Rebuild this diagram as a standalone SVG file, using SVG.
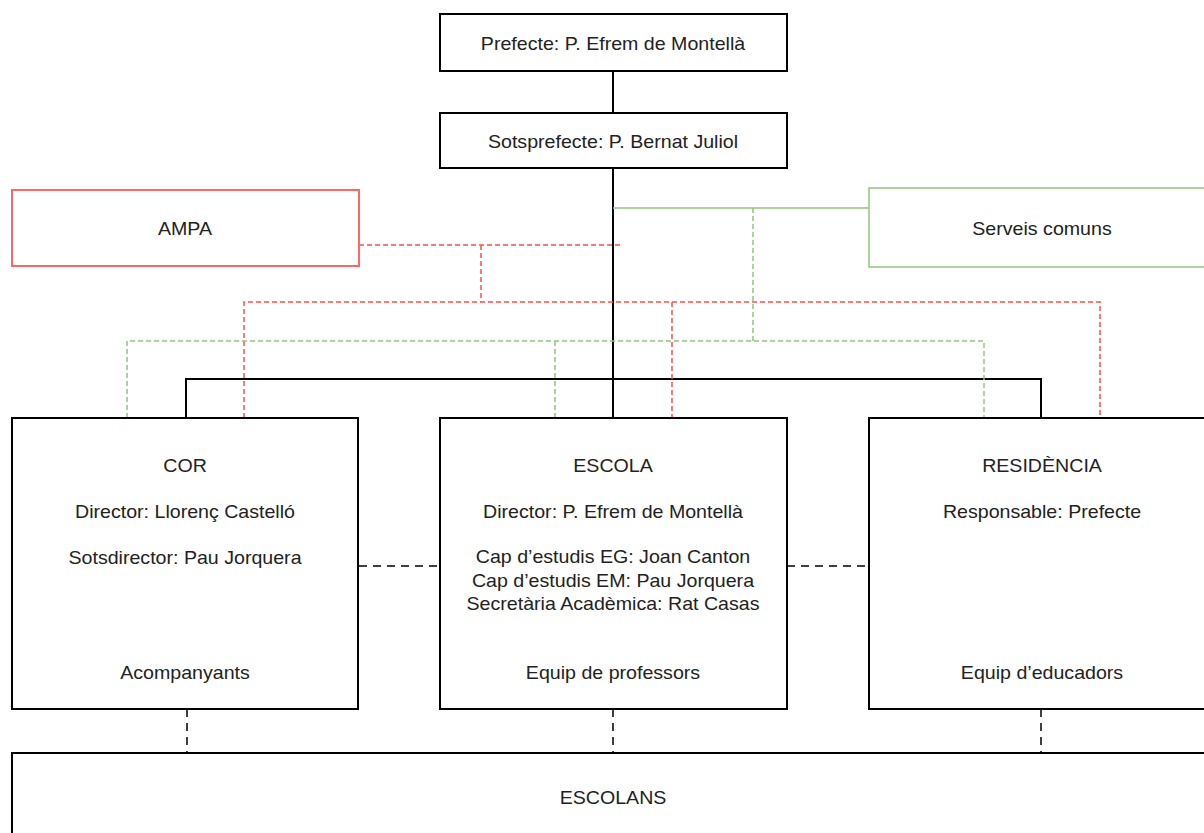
<svg xmlns="http://www.w3.org/2000/svg" width="1204" height="833" viewBox="0 0 1204 833">
<style>
.box{fill:#fff;stroke:#000;stroke-width:2}
.red{fill:#fff;stroke:#ff6666;stroke-width:2}
.green{fill:#fff;stroke:#93c47d;stroke-width:1.5}
text{font-family:"Liberation Sans",Arial,sans-serif;font-size:18.5px;fill:#222;text-anchor:middle}
.solid{fill:none;stroke:#000;stroke-width:2}
.gsolid{fill:none;stroke:#93c47d;stroke-width:1.5}
.rdash{fill:none;stroke:#ff4d4d;stroke-width:1.5;stroke-dasharray:5,3}
.gdash{fill:none;stroke:#93c47d;stroke-width:1.5;stroke-dasharray:5,3}
.kdash{fill:none;stroke:#000;stroke-width:1.5;stroke-dasharray:8,6}
</style>
<g id="connectors">
<line class="solid" x1="613" y1="71" x2="613" y2="113"/>
<line class="solid" x1="613" y1="168" x2="613" y2="418"/>
<polyline class="solid" points="186,418 186,379 1041,379 1041,418"/>
<line class="gsolid" x1="613" y1="208" x2="869" y2="208"/>
<line class="rdash" x1="359" y1="245" x2="622" y2="245"/>
<line class="rdash" x1="481" y1="245" x2="481" y2="302"/>
<polyline class="rdash" points="244,418 244,302 1100,302 1100,418"/>
<line class="rdash" x1="672" y1="302" x2="672" y2="418"/>
<line class="gdash" x1="753" y1="208" x2="753" y2="342"/>
<polyline class="gdash" points="127,418 127,341 984,341 984,418"/>
<line class="gdash" x1="555" y1="341" x2="555" y2="418"/>
<line class="kdash" x1="359" y1="566" x2="440" y2="566"/>
<line class="kdash" x1="787" y1="566" x2="869" y2="566"/>
<line class="kdash" x1="187" y1="709" x2="187" y2="753"/>
<line class="kdash" x1="613" y1="709" x2="613" y2="753"/>
<line class="kdash" x1="1041" y1="709" x2="1041" y2="753"/>
</g>
<g id="prefecte">
<rect class="box" x="440" y="14" width="347" height="57"/>
<text transform="translate(613 50) scale(1.06 1)">Prefecte: P. Efrem de Montellà</text>
</g>
<g id="sotsprefecte">
<rect class="box" x="440" y="113" width="347" height="55"/>
<text transform="translate(613 148) scale(1.06 1)">Sotsprefecte: P. Bernat Juliol</text>
</g>
<g id="ampa">
<rect class="red" x="12" y="190" width="347" height="76"/>
<text transform="translate(185 235) scale(1.06 1)">AMPA</text>
</g>
<g id="serveis">
<rect class="green" x="869" y="188" width="346" height="79"/>
<text transform="translate(1042 235) scale(1.06 1)">Serveis comuns</text>
</g>
<g id="cor">
<rect class="box" x="12" y="418" width="346" height="291"/>
<text transform="translate(185 472) scale(1.06 1)">COR</text>
<text transform="translate(185 518) scale(1.06 1)">Director: Llorenç Castelló</text>
<text transform="translate(185 564) scale(1.06 1)">Sotsdirector: Pau Jorquera</text>
<text transform="translate(185 679) scale(1.06 1)">Acompanyants</text>
</g>
<g id="escola">
<rect class="box" x="440" y="418" width="347" height="291"/>
<text transform="translate(613 472) scale(1.06 1)">ESCOLA</text>
<text transform="translate(613 518) scale(1.06 1)">Director: P. Efrem de Montellà</text>
<text transform="translate(613 563) scale(1.06 1)">Cap d’estudis EG: Joan Canton</text>
<text transform="translate(613 587) scale(1.06 1)">Cap d’estudis EM: Pau Jorquera</text>
<text transform="translate(613 610) scale(1.06 1)">Secretària Acadèmica: Rat Casas</text>
<text transform="translate(613 679) scale(1.06 1)">Equip de professors</text>
</g>
<g id="residencia">
<rect class="box" x="869" y="418" width="346" height="291"/>
<text transform="translate(1042 472) scale(1.06 1)">RESIDÈNCIA</text>
<text transform="translate(1042 518) scale(1.06 1)">Responsable: Prefecte</text>
<text transform="translate(1042 679) scale(1.06 1)">Equip d’educadors</text>
</g>
<g id="escolans">
<rect class="box" x="12" y="753" width="1204" height="100"/>
<text transform="translate(613 804) scale(1.06 1)">ESCOLANS</text>
</g>
</svg>
